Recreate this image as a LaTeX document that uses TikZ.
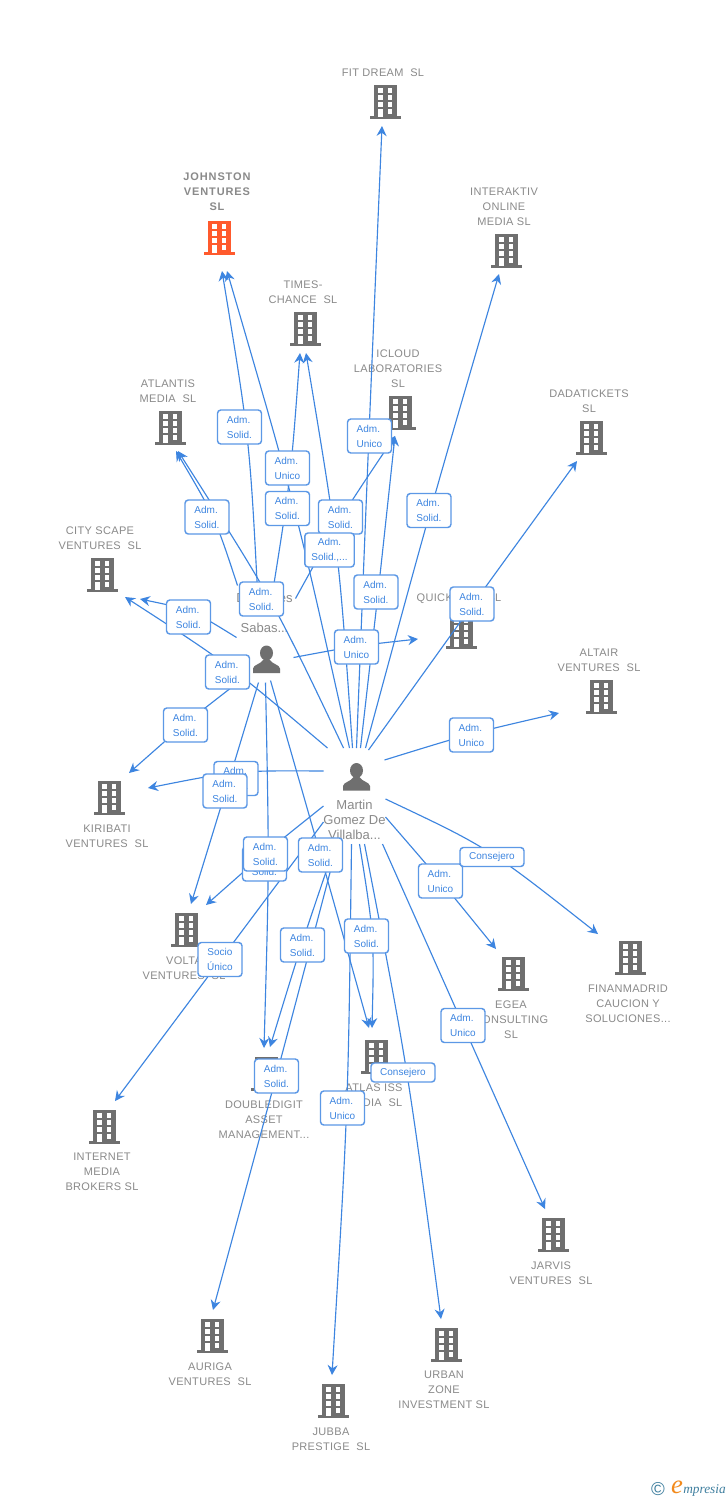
\documentclass[tikz,border=0pt]{standalone}
\usepackage{fontspec}
\setmainfont{Liberation Sans}
\newfontfamily\logofont{Liberation Serif}
\usetikzlibrary{positioning,calc,arrows.meta}

\definecolor{towergrey}{HTML}{6F6F6F}
\definecolor{towerhot}{HTML}{FF5A2D}
\definecolor{namegrey}{HTML}{8A8A8A}
\definecolor{linkblue}{HTML}{3D85E0}
\definecolor{boxblue}{HTML}{5C98E6}
\definecolor{logoteal}{HTML}{3F7F9F}
\definecolor{logoorange}{HTML}{F28A1C}

\tikzset{
    x=.75pt, y=-.75pt,
    tower/.pic={
        \fill[pic actions] (-11.5,-17) rectangle (11.5,14);
        \fill[pic actions] (-15.5,14) rectangle (15.5,17);
        \foreach \wx in {-7,2.5} {
            \foreach \wy in {-14,-7,0} {
                \fill[white] (\wx,\wy) rectangle ++(4.75,4.5);
            }
        }
        \fill[white] (-7,7) rectangle (-2.25,15);
        \fill[white] (2.5,7) rectangle (7.25,11.5);
    },
    person/.pic={
        \fill[towergrey] (0,-6.5) ellipse [x radius=6.5, y radius=7.5];
        \fill[towergrey] (-13.5,13.5) -- (-13.5,9) .. controls (-13,5) and (-6,5) .. (-3,0)
            -- (3,0) .. controls (6,5) and (13,5) .. (13.5,9) -- (13.5,13.5) -- cycle;
    },
    towerspot/.style={minimum width=23.25pt, minimum height=25.5pt, inner sep=0pt},
    whospot/.style={minimum width=20.25pt, minimum height=21pt, inner sep=0pt},
    towername/.style={align=center, inner sep=0pt, text=namegrey, xshift=-1.5pt,
        font={\fontsize{8.25pt}{11.25pt}\selectfont\addfontfeature{LetterSpace=3}}},
    hotname/.style={towername, font={\fontsize{8.25pt}{11.25pt}\selectfont\bfseries\addfontfeature{LetterSpace=8}}},
    whoname/.style={align=center, inner sep=0pt, text=namegrey, xshift=-1.5pt,
        font={\fontsize{9.75pt}{11.25pt}\selectfont}},
    link/.style={draw=linkblue, line width=.85pt, -{Stealth[length=7.5pt,width=7.5pt,inset=2.5pt]}},
    rel/.style={draw=boxblue, fill=white, line width=1.1pt, rounded corners=2.5pt, align=left,
        text=linkblue, minimum width=33pt, minimum height=25.5pt, inner xsep=5pt, inner ysep=0pt,
        font={\fontsize{7.5pt}{11.25pt}\selectfont}},
    node distance=6.25pt
}

% building with its marker, offsets in px
\newcommand{\bldg}[3][towergrey]{%
    \node[towerspot] (#2) at (#3) {};
    \pic[fill=#1] at (#2) {tower};
}
% source, offset, point on the way, target, offset
\newcommand{\link}[5]{%
    \coordinate (from) at ([shift={(#2)}]#1.center);
    \coordinate (via) at (#3);
    \coordinate (into) at ([shift={(#5)}]#4.center);
    \draw[link] (from) .. controls ($2*(via)-.5*(from)-.5*(into)$) .. (into);
}

\begin{document}
\begin{tikzpicture}
    \useasboundingbox (0,0) rectangle (728,1500);
    \fill[white] (0,0) rectangle (728,1500);

    % buildings
    \bldg{fitdream}{385,102}
    \bldg[towerhot]{johnston}{219,238}
    \bldg{interaktiv}{506,251}
    \bldg{times}{305,329}
    \bldg{icloud}{400,413}
    \bldg{atlantis}{170,428}
    \bldg{dadatickets}{591,438}
    \bldg{cityscape}{102,575}
    \bldg{quick}{461,632}
    \bldg{altair}{601,697}
    \bldg{kiribati}{109,798}
    \bldg{volta}{186,930}
    \bldg{egea}{513,974}
    \bldg{finanmadrid}{630,958}
    \bldg{atlas}{376,1057}
    \bldg{doubledigit}{266,1074}
    \bldg{internet}{104,1127}
    \bldg{jarvis}{553,1235}
    \bldg{auriga}{212,1336}
    \bldg{urban}{446,1345}
    \bldg{jubba}{333,1401}

    \node[towername, above=of fitdream] (fitdreamname) {FIT DREAM\ \ SL};
    \node[hotname, above=7.75pt of johnston] (johnstonname) {JOHNSTON\\VENTURES\\SL};
    \node[towername, above=of interaktiv] (interaktivname) {INTERAKTIV\\ONLINE\\MEDIA SL};
    \node[towername, above=of times] (timesname) {TIMES-\\CHANCE\ \ SL};
    \node[towername, above=of icloud] (icloudname) {ICLOUD\\LABORATORIES\\SL};
    \node[towername, above=of atlantis] (atlantisname) {ATLANTIS\\MEDIA\ \ SL};
    \node[towername, above=of dadatickets] (dadaticketsname) {DADATICKETS\\SL};
    \node[towername, above=of cityscape] (cityscapename) {CITY SCAPE\\VENTURES\ \ SL};
    \node[towername, above=8.5pt of quick] (quickname) {QUICK\hspace{26pt}SL};
    \node[towername, above=of altair] (altairname) {ALTAIR\\VENTURES\ \ SL};
    \node[towername, below=6.75pt of kiribati] (kiribatiname) {KIRIBATI\\VENTURES\ \ SL};
    \node[towername, below=6.75pt of volta] (voltaname) {VOLTA\\VENTURES\ \ SL};
    \node[towername, below=6.75pt of egea] (egeaname) {EGEA\\CONSULTING\\SL};
    \node[towername, below=6.75pt of finanmadrid] (finanmadridname) {FINANMADRID\\CAUCION Y\\SOLUCIONES...};
    \node[towername, below=6.75pt of atlas] (atlasname) {ATLAS ISS\\MEDIA\ \ SL};
    \node[towername, below=7.25pt of doubledigit] (doubledigitname) {DOUBLEDIGIT\\ASSET\\MANAGEMENT...};
    \node[towername, below=of internet] (internetname) {INTERNET\\MEDIA\\BROKERS SL};
    \node[towername, below=6.75pt of jarvis] (jarvisname) {JARVIS\\VENTURES\ \ SL};
    \node[towername, below=6.75pt of auriga] (auriganame) {AURIGA\\VENTURES\ \ SL};
    \node[towername, below=of urban] (urbanname) {URBAN\\ZONE\\INVESTMENT SL};
    \node[towername, below=6.75pt of jubba] (jubbaname) {JUBBA\\PRESTIGE\ \ SL};

    % people
    \node[whospot] (martin) at (356.5,777) {};
    \node[whospot] (sabas) at (266.5,659.5) {};
    \pic at (martin) {person};
    \pic at (sabas) {person};
    \node[whoname, below=6.5pt of martin] (martinname) {Martin\\Gomez De\\Villalba...};
    \node[whoname, above=9pt of sabas] (sabasname) {D\hspace{25pt}es\\~\\Sabas...};

    % connectors
    \link{martin}{0,-29}{369,437}{fitdream}{-3,24}
    \link{martin}{4,-29}{378,592}{icloud}{-5,23}
    \link{martin}{9,-29}{431,511}{interaktiv}{-7,23}
    \link{martin}{12,-27}{472,606}{dadatickets}{-14,23}
    \link{martin}{28,-17}{471,735}{altair}{-42,16}
    \link{martin}{-7,-29}{292,508}{johnston}{8,33}
    \link{martin}{-4,-29}{334,550}{times}{1,24}
    \link{martin}{-13,-29}{267,600}{atlantis}{8,23}
    \link{martin}{-29,-29}{227,668}{cityscape}{23,22}
    \link{martin}{-33,-6}{236,775}{kiribati}{39,-10}
    \link{martin}{-33,29}{265,854}{volta}{20,-25}
    \link{martin}{-33,45}{220,960}{internet}{11,-26}
    \link{martin}{-19,67}{276,1076}{auriga}{1,-26}
    \link{martin}{-21,67}{302,945}{doubledigit}{4,-27}
    \link{martin}{3,67}{370,936}{atlas}{-4,-29}
    \link{martin}{-5,67}{345,1108}{jubba}{-1,-26}
    \link{martin}{8,67}{405,1073}{urban}{-5,-26}
    \link{martin}{26,67}{463,1025}{jarvis}{-8,-26}
    \link{martin}{29,40}{440,881}{egea}{-17,-25}
    \link{martin}{29,22}{490,857}{finanmadrid}{-32,-24}

    \link{sabas}{-8,-49}{245,440}{johnston}{3,33}
    \link{sabas}{4,-54}{288,479}{times}{-5,24}
    \link{sabas}{-29,-74}{211,518}{atlantis}{6,23}
    \link{sabas}{29,-61}{343,517}{icloud}{-5,23}
    \link{sabas}{27,-2}{356,647}{quick}{-43,7}
    \link{sabas}{-30,-22}{190,614}{cityscape}{38,24}
    \link{sabas}{-26,21}{185,725}{kiribati}{20,-25}
    \link{sabas}{-8,23}{225,793}{volta}{5,-26}
    \link{sabas}{-1,23}{267,865}{doubledigit}{-2,-26}
    \link{sabas}{4,21}{320,854}{atlas}{-7,-29}

    % role boxes
    \node[rel] (r1) at (239.5,427) {Adm.\\Solid.};
    \node[rel] (r2) at (287.5,468) {Adm.\\Unico};
    \node[rel] (r3) at (287.5,508.5) {Adm.\\Solid.};
    \node[rel] (r4) at (340.5,517) {Adm.\\Solid.};
    \node[rel, align=center] (r5) at (329.5,550) {Adm.\\Solid.,...};
    \node[rel] (r6) at (369.5,436) {Adm.\\Unico};
    \node[rel] (r7) at (207,517) {Adm.\\Solid.};
    \node[rel] (r8) at (261.5,599) {Adm.\\Solid.};
    \node[rel] (r9) at (188.5,617) {Adm.\\Solid.};
    \node[rel] (r10) at (227.5,672) {Adm.\\Solid.};
    \node[rel] (r11) at (376,592) {Adm.\\Solid.};
    \node[rel] (r12) at (356.5,647) {Adm.\\Unico};
    \node[rel] (r13) at (429,510.5) {Adm.\\Solid.};
    \node[rel] (r14) at (472,604) {Adm.\\Solid.};
    \node[rel] (r15) at (471.5,735) {Adm.\\Unico};
    \node[rel] (r16) at (185.5,725) {Adm.\\Solid.};
    \node[rel] (r17) at (236,778.5) {Adm.\\Solid.};
    \node[rel] (r18) at (225,791) {Adm.\\Solid.};
    \node[rel] (r19) at (264.5,864) {Adm.\\Solid.};
    \node[rel] (r20) at (265.5,854) {Adm.\\Solid.};
    \node[rel] (r21) at (320.5,855) {Adm.\\Solid.};
    \node[rel, align=center] (r22) at (220,959.5) {Socio\\Único};
    \node[rel] (r23) at (302.5,945) {Adm.\\Solid.};
    \node[rel] (r24) at (366.5,936) {Adm.\\Solid.};
    \node[rel] (r25) at (440.5,881) {Adm.\\Unico};
    \node[rel, minimum width=48pt, minimum height=14.25pt, align=center] (r26) at (492,857) {Consejero};
    \node[rel] (r27) at (463,1025.5) {Adm.\\Unico};
    \node[rel] (r28) at (276.5,1076) {Adm.\\Solid.};
    \node[rel, minimum width=48pt, minimum height=14.25pt, align=center] (r29) at (403,1072.5) {Consejero};
    \node[rel] (r30) at (342.5,1108) {Adm.\\Unico};

    % logo
    \node[inner sep=0pt, text=logoteal, font={\fontsize{14pt}{14pt}\selectfont}] (copysign) at (658,1489) {©};
    \node[inner sep=0pt, text=logoorange, font={\fontsize{20pt}{20pt}\logofont\itshape}] (logoe) at (677,1487) {e};
    \node[inner sep=0pt, anchor=west, text=logoteal, font={\fontsize{10pt}{10pt}\logofont\itshape}] (logoword) at (683,1490) {mpresia};
\end{tikzpicture}
\end{document}
